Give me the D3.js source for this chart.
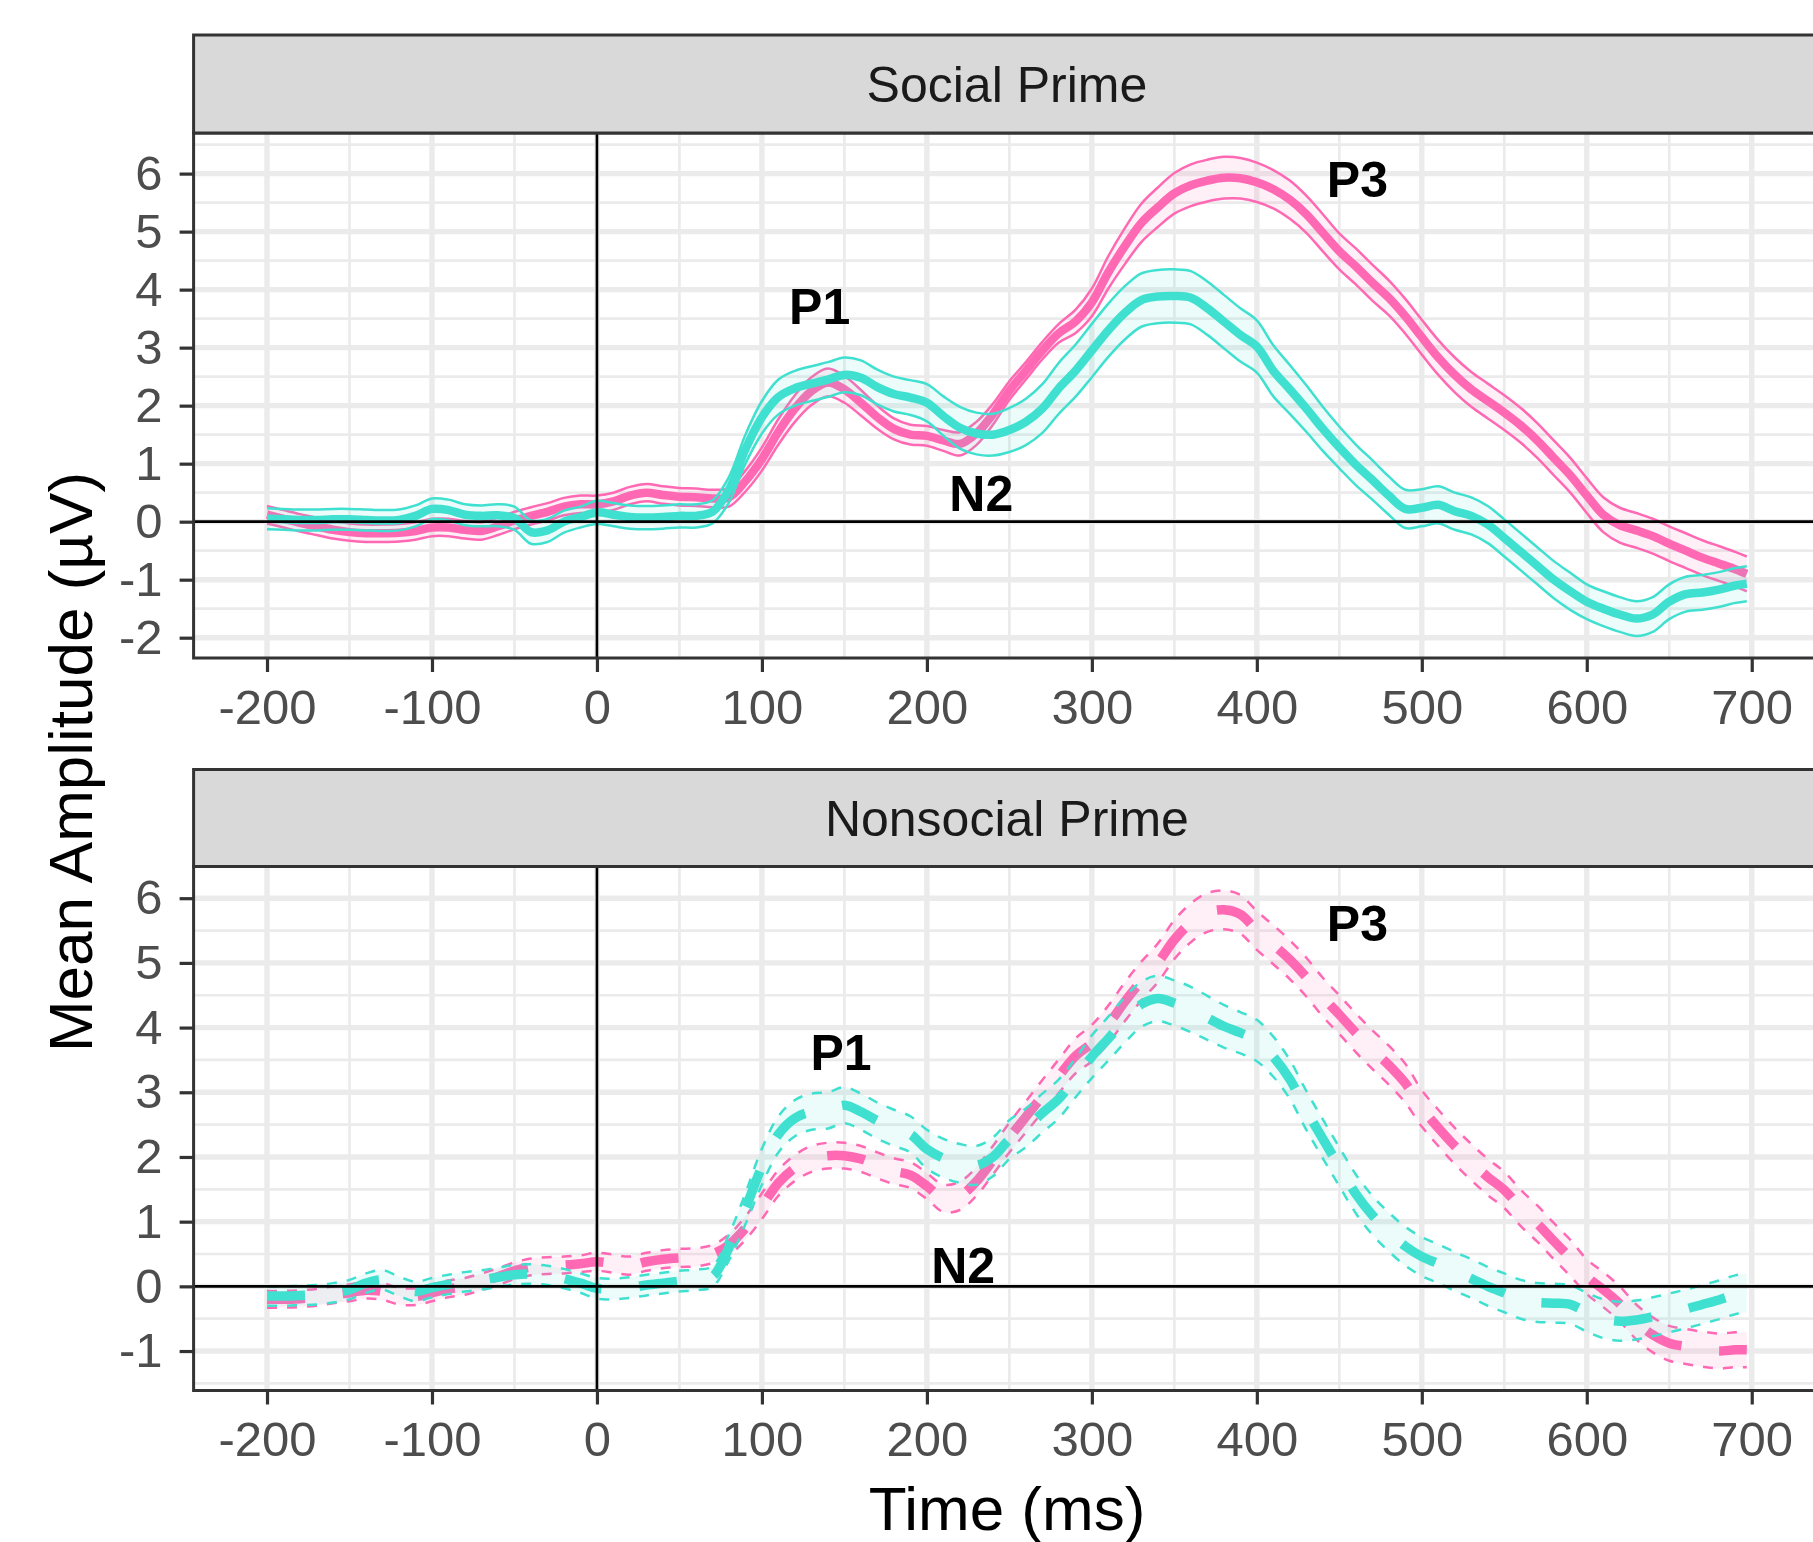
<!DOCTYPE html>
<html lang="en">
<head>
<meta charset="UTF-8">
<title>ERP waveforms by prime</title>
<script src="https://cdnjs.cloudflare.com/ajax/libs/d3/7.8.5/d3.min.js"></script>
<style>
  body { margin: 0; background: #fff; }
  svg { display: block; font-family: "Liberation Sans", Arial, sans-serif; }
</style>
</head>
<body>
<svg id="chart" width="1813" height="1542"></svg>
<script>
// sample times (ms), every 10 ms plus the last sample
const times = d3.range(-200, 700, 10).concat([697]);

const xTicks = [-200, -100, 0, 100, 200, 300, 400, 500, 600, 700];
const socialYTicks = [-2, -1, 0, 1, 2, 3, 4, 5, 6];
const nonsocialYTicks = [-1, 0, 1, 2, 3, 4, 5, 6];

// Social prime
const socialPinkMean = [
  0.12, 0.05, -0.02, -0.08, -0.14, -0.18, -0.2, -0.2, -0.19, -0.16,
  -0.1, -0.1, -0.14, -0.16, -0.08, 0.02, 0.1, 0.17, 0.26, 0.3,
  0.3, 0.35, 0.45, 0.5, 0.46, 0.43, 0.42, 0.4, 0.42, 0.7,
  1.08, 1.55, 1.95, 2.25, 2.4, 2.28, 2.05, 1.8, 1.6, 1.5,
  1.48, 1.4, 1.34, 1.52, 1.85, 2.26, 2.6, 2.95, 3.25, 3.45,
  3.78, 4.3, 4.75, 5.15, 5.42, 5.66, 5.8, 5.88, 5.93, 5.92,
  5.85, 5.73, 5.55, 5.3, 4.98, 4.66, 4.4, 4.12, 3.86, 3.54,
  3.18, 2.83, 2.53, 2.28, 2.08, 1.88, 1.66, 1.4, 1.1, 0.8,
  0.45, 0.12, -0.06, -0.15, -0.25, -0.38, -0.5, -0.62, -0.72, -0.82,
  -0.9
];
const socialPinkSe = [
  0.15, 0.15, 0.15, 0.15, 0.15, 0.15, 0.15, 0.15, 0.15, 0.15,
  0.15, 0.15, 0.15, 0.15, 0.15, 0.15, 0.15, 0.15, 0.15, 0.15,
  0.15, 0.15, 0.15, 0.15, 0.15, 0.15, 0.15, 0.15, 0.16, 0.18,
  0.2, 0.22, 0.23, 0.24, 0.24, 0.23, 0.22, 0.2, 0.18, 0.17,
  0.17, 0.18, 0.2, 0.2, 0.18, 0.16, 0.15, 0.15, 0.16, 0.2,
  0.24, 0.28, 0.31, 0.33, 0.34, 0.35, 0.36, 0.36, 0.36, 0.35,
  0.34, 0.33, 0.33, 0.32, 0.32, 0.31, 0.31, 0.31, 0.3, 0.3,
  0.3, 0.3, 0.3, 0.3, 0.3, 0.3, 0.3, 0.3, 0.3, 0.3,
  0.3, 0.3, 0.3, 0.3, 0.3, 0.3, 0.3, 0.3, 0.3, 0.3,
  0.3
];
const socialTealMean = [
  0.05, 0.04, 0.03, 0.03, 0.04, 0.04, 0.03, 0.02, 0.03, 0.1,
  0.22, 0.2, 0.12, 0.1, 0.11, 0.06, -0.18, -0.15, 0.0, 0.08,
  0.16, 0.12, 0.08, 0.07, 0.08, 0.1, 0.1, 0.17, 0.55, 1.25,
  1.8, 2.15, 2.3, 2.38, 2.45, 2.53, 2.48, 2.32, 2.2, 2.14,
  2.05, 1.82, 1.62, 1.52, 1.5, 1.58, 1.72, 1.95, 2.3, 2.6,
  2.95, 3.3, 3.6, 3.82, 3.88, 3.89, 3.86, 3.68, 3.45, 3.22,
  3.02, 2.6, 2.28, 1.95, 1.6, 1.28, 0.98, 0.72, 0.45, 0.22,
  0.24, 0.29, 0.18, 0.1, -0.05, -0.28, -0.52, -0.76, -1.0, -1.2,
  -1.38, -1.5, -1.6, -1.67, -1.6, -1.38, -1.25, -1.22, -1.17, -1.1,
  -1.07
];
const socialTealSe = [
  0.18, 0.18, 0.18, 0.18, 0.18, 0.18, 0.18, 0.18, 0.18, 0.18,
  0.18, 0.18, 0.18, 0.18, 0.19, 0.2, 0.2, 0.2, 0.19, 0.18,
  0.2, 0.2, 0.2, 0.2, 0.2, 0.2, 0.2, 0.2, 0.22, 0.25,
  0.28, 0.3, 0.3, 0.3, 0.3, 0.3, 0.3, 0.3, 0.3, 0.3,
  0.32, 0.34, 0.36, 0.36, 0.36, 0.38, 0.4, 0.42, 0.44, 0.45,
  0.46, 0.46, 0.46, 0.46, 0.46, 0.46, 0.46, 0.46, 0.46, 0.46,
  0.45, 0.44, 0.42, 0.4, 0.38, 0.36, 0.35, 0.34, 0.33, 0.33,
  0.32, 0.32, 0.32, 0.32, 0.32, 0.32, 0.32, 0.32, 0.32, 0.32,
  0.3, 0.3, 0.3, 0.3, 0.3, 0.3, 0.3, 0.3, 0.3, 0.3,
  0.3
];

// Nonsocial prime
const nonsocialPinkMean = [
  -0.2, -0.2, -0.19, -0.17, -0.13, -0.1, -0.06, -0.08, -0.15, -0.16,
  -0.1, -0.04, 0.0, 0.07, 0.15, 0.24, 0.3, 0.32, 0.33, 0.35,
  0.38, 0.35, 0.32, 0.38, 0.42, 0.44, 0.45, 0.5, 0.64, 0.9,
  1.24, 1.6, 1.83, 1.97, 2.02, 2.02, 1.97, 1.87, 1.78, 1.72,
  1.55, 1.36, 1.4, 1.62, 1.95, 2.3, 2.62, 2.94, 3.25, 3.56,
  3.76, 4.05, 4.4, 4.72, 5.0, 5.36, 5.62, 5.78, 5.82, 5.75,
  5.5, 5.28, 5.05, 4.78, 4.47, 4.2, 3.92, 3.66, 3.42, 3.14,
  2.75, 2.45, 2.17, 1.92, 1.69, 1.49, 1.21, 0.97, 0.7, 0.44,
  0.15, -0.05, -0.27, -0.55, -0.75, -0.88, -0.93, -0.97, -1.0, -0.98,
  -0.98
];
const nonsocialPinkSe = [
  0.13, 0.13, 0.13, 0.13, 0.13, 0.13, 0.13, 0.13, 0.13, 0.13,
  0.13, 0.13, 0.13, 0.13, 0.13, 0.13, 0.13, 0.13, 0.13, 0.13,
  0.14, 0.14, 0.14, 0.14, 0.14, 0.14, 0.14, 0.14, 0.16, 0.18,
  0.2, 0.2, 0.2, 0.2, 0.2, 0.2, 0.2, 0.2, 0.2, 0.2,
  0.2, 0.21, 0.22, 0.22, 0.22, 0.23, 0.24, 0.25, 0.26, 0.27,
  0.28, 0.29, 0.3, 0.3, 0.3, 0.3, 0.3, 0.3, 0.3, 0.3,
  0.3, 0.3, 0.3, 0.3, 0.3, 0.3, 0.3, 0.3, 0.3, 0.3,
  0.28, 0.28, 0.28, 0.28, 0.28, 0.28, 0.28, 0.28, 0.28, 0.28,
  0.27, 0.27, 0.27, 0.27, 0.27, 0.27, 0.27, 0.27, 0.27, 0.27,
  0.27
];
const nonsocialTealMean = [
  -0.15, -0.15, -0.14, -0.13, -0.1, -0.05, 0.05, 0.1, 0.0, -0.08,
  -0.02, 0.03, 0.07, 0.1, 0.14, 0.18, 0.19, 0.17, 0.12, 0.05,
  -0.03, -0.04, -0.02, 0.02, 0.05, 0.08, 0.1, 0.15, 0.6, 1.2,
  1.85, 2.35, 2.6, 2.7, 2.72, 2.8, 2.7, 2.56, 2.45, 2.35,
  2.12, 1.98, 1.9, 1.87, 2.0, 2.27, 2.45, 2.68, 2.9, 3.22,
  3.55, 3.83, 4.12, 4.36, 4.45, 4.38, 4.28, 4.15, 4.02, 3.92,
  3.8, 3.55, 3.2, 2.72, 2.28, 1.85, 1.43, 1.1, 0.84, 0.62,
  0.46, 0.35, 0.23, 0.12, 0.0, -0.1, -0.2, -0.25, -0.26, -0.28,
  -0.4, -0.5, -0.54, -0.52, -0.47, -0.41, -0.35, -0.28, -0.21, -0.13,
  -0.1
];
const nonsocialTealSe = [
  0.15, 0.15, 0.15, 0.15, 0.15, 0.15, 0.15, 0.15, 0.15, 0.15,
  0.15, 0.15, 0.15, 0.15, 0.15, 0.15, 0.15, 0.15, 0.15, 0.15,
  0.16, 0.16, 0.16, 0.16, 0.16, 0.16, 0.16, 0.16, 0.2, 0.24,
  0.28, 0.28, 0.28, 0.28, 0.28, 0.28, 0.28, 0.28, 0.28, 0.28,
  0.3, 0.3, 0.3, 0.3, 0.3, 0.3, 0.3, 0.3, 0.3, 0.3,
  0.33, 0.34, 0.35, 0.35, 0.35, 0.35, 0.35, 0.34, 0.33, 0.32,
  0.32, 0.31, 0.3, 0.3, 0.3, 0.3, 0.3, 0.3, 0.3, 0.3,
  0.3, 0.3, 0.3, 0.3, 0.3, 0.3, 0.3, 0.3, 0.3, 0.3,
  0.3, 0.3, 0.3, 0.3, 0.3, 0.3, 0.3, 0.3, 0.3, 0.3,
  0.3
];

// component labels: time (ms), amplitude (µV)
const socialLabels = [
  { text: 'P1', t: 135, v: 3.72 },
  { text: 'P3', t: 461, v: 5.9 },
  { text: 'N2', t: 233, v: 0.5 }
];
const nonsocialLabels = [
  { text: 'P1', t: 148, v: 3.63 },
  { text: 'P3', t: 461, v: 5.61 },
  { text: 'N2', t: 222, v: 0.33 }
];

const PINK = '#FF69B4';
const TEAL = '#40E0D0';

const svg = d3.select('#chart');
svg.append('rect').attr('width', 1813).attr('height', 1542).attr('fill', '#fff');

const panelLeft = 193.6, panelRight = 1820.2;
const x = d3.scaleLinear().domain([-244.5, 741.5]).range([panelLeft, panelRight]);

const panels = [
  {
    id: 'social', title: 'Social Prime', dashed: false,
    stripTop: 35, top: 133, bottom: 658, yDomain: [-2.35, 6.70], yTicks: socialYTicks,
    series: [
      { color: PINK, mean: socialPinkMean, se: socialPinkSe },
      { color: TEAL, mean: socialTealMean, se: socialTealSe }
    ],
    labels: socialLabels
  },
  {
    id: 'nonsocial', title: 'Nonsocial Prime', dashed: true,
    stripTop: 769.5, top: 866.5, bottom: 1390.5, yDomain: [-1.61, 6.49], yTicks: nonsocialYTicks,
    series: [
      { color: PINK, mean: nonsocialPinkMean, se: nonsocialPinkSe },
      { color: TEAL, mean: nonsocialTealMean, se: nonsocialTealSe }
    ],
    labels: nonsocialLabels
  }
];

function midpoints(ticks, domain) {
  const step = ticks[1] - ticks[0];
  const out = [];
  for (let i = -1; i < ticks.length; i++) {
    const m = (i < 0 ? ticks[0] - step : ticks[i]) + step / 2;
    if (m > domain[0] && m < domain[1]) out.push(m);
  }
  return out;
}

panels.forEach(p => {
  const y = d3.scaleLinear().domain(p.yDomain).range([p.bottom, p.top]);
  const g = svg.append('g');
  const w = panelRight - panelLeft;

  // grid: minor then major
  const xMinor = midpoints(xTicks, x.domain());
  const yMinor = midpoints(p.yTicks, p.yDomain);
  const grid = g.append('g').attr('stroke', '#ebebeb');
  grid.selectAll('.vmin').data(xMinor).enter().append('line')
    .attr('x1', d => x(d)).attr('x2', d => x(d)).attr('y1', p.top).attr('y2', p.bottom)
    .attr('stroke-width', 2.7);
  grid.selectAll('.hmin').data(yMinor).enter().append('line')
    .attr('x1', panelLeft).attr('x2', panelRight).attr('y1', d => y(d)).attr('y2', d => y(d))
    .attr('stroke-width', 2.7);
  grid.selectAll('.vmaj').data(xTicks).enter().append('line')
    .attr('x1', d => x(d)).attr('x2', d => x(d)).attr('y1', p.top).attr('y2', p.bottom)
    .attr('stroke-width', 5.4);
  grid.selectAll('.hmaj').data(p.yTicks).enter().append('line')
    .attr('x1', panelLeft).attr('x2', panelRight).attr('y1', d => y(d)).attr('y2', d => y(d))
    .attr('stroke-width', 5.4);

  svg.append('clipPath').attr('id', 'clip-' + p.id)
    .append('rect').attr('x', panelLeft).attr('y', p.top).attr('width', w).attr('height', p.bottom - p.top);

  const plot = g.append('g').attr('clip-path', `url(#clip-${p.id})`);

  p.series.forEach(s => {
    const pts = times.map((t, i) => ({ t: t, m: s.mean[i], lo: s.mean[i] - s.se[i], hi: s.mean[i] + s.se[i] }));
    const curve = d3.curveCatmullRom.alpha(0.5);

    plot.append('path').datum(pts)
      .attr('d', d3.area().x(d => x(d.t)).y0(d => y(d.lo)).y1(d => y(d.hi)).curve(curve))
      .attr('fill', s.color).attr('fill-opacity', 0.1);

    ['lo', 'hi'].forEach(k => {
      plot.append('path').datum(pts)
        .attr('d', d3.line().x(d => x(d.t)).y(d => y(d[k])).curve(curve))
        .attr('fill', 'none').attr('stroke', s.color).attr('stroke-width', 2.5)
        .attr('stroke-dasharray', p.dashed ? '10,10' : null);
    });

    plot.append('path').datum(pts)
      .attr('d', d3.line().x(d => x(d.t)).y(d => y(d.m)).curve(curve))
      .attr('fill', 'none').attr('stroke', s.color)
      .attr('stroke-width', p.dashed ? 9.5 : 8.5)
      .attr('stroke-dasharray', p.dashed ? '38,38' : null);
  });

  // reference lines at 0 ms and 0 µV
  plot.append('line').attr('x1', panelLeft).attr('x2', panelRight)
    .attr('y1', y(0)).attr('y2', y(0)).attr('stroke', '#000').attr('stroke-width', 2.6);
  plot.append('line').attr('x1', x(0)).attr('x2', x(0))
    .attr('y1', p.top).attr('y2', p.bottom).attr('stroke', '#000').attr('stroke-width', 2.6);

  // component labels
  g.selectAll('.lab').data(p.labels).enter().append('text')
    .attr('x', d => x(d.t)).attr('y', d => y(d.v) + 18)
    .attr('text-anchor', 'middle').attr('font-size', 50).attr('font-weight', 'bold')
    .attr('fill', '#000').text(d => d.text);

  // panel border
  g.append('rect').attr('x', panelLeft).attr('y', p.top).attr('width', w).attr('height', p.bottom - p.top)
    .attr('fill', 'none').attr('stroke', '#333').attr('stroke-width', 3);

  // strip
  g.append('rect').attr('x', panelLeft).attr('y', p.stripTop).attr('width', w).attr('height', p.top - p.stripTop)
    .attr('fill', '#d9d9d9').attr('stroke', '#333').attr('stroke-width', 3);
  g.append('text').attr('x', (panelLeft + panelRight) / 2).attr('y', (p.stripTop + p.top) / 2 + 17.5)
    .attr('text-anchor', 'middle').attr('font-size', 50).attr('fill', '#1a1a1a').text(p.title);

  // axes
  const xAxis = g.append('g').attr('transform', `translate(0,${p.bottom})`)
    .call(d3.axisBottom(x).tickValues(xTicks).tickSize(14).tickPadding(17).tickFormat(d3.format('d')));
  const yAxis = g.append('g').attr('transform', `translate(${panelLeft},0)`)
    .call(d3.axisLeft(y).tickValues(p.yTicks).tickSize(14).tickPadding(17).tickFormat(d3.format('d')));
  [xAxis, yAxis].forEach(a => {
    a.select('.domain').remove();
    a.selectAll('.tick line').attr('stroke', '#333').attr('stroke-width', 3.2);
    a.selectAll('.tick text').attr('fill', '#4d4d4d').attr('font-size', 49)
      .attr('font-family', '"Liberation Sans", Arial, sans-serif')
      .text(d => String(d).replace('\u2212', '-'));
  });
});

// axis titles
svg.append('text').attr('x', 1007).attr('y', 1530).attr('text-anchor', 'middle')
  .attr('font-size', 62).attr('fill', '#000').text('Time (ms)');
svg.append('text').attr('transform', 'translate(92,762) rotate(-90)').attr('text-anchor', 'middle')
  .attr('font-size', 62).attr('fill', '#000').text('Mean Amplitude (µV)');
</script>
</body>
</html>
